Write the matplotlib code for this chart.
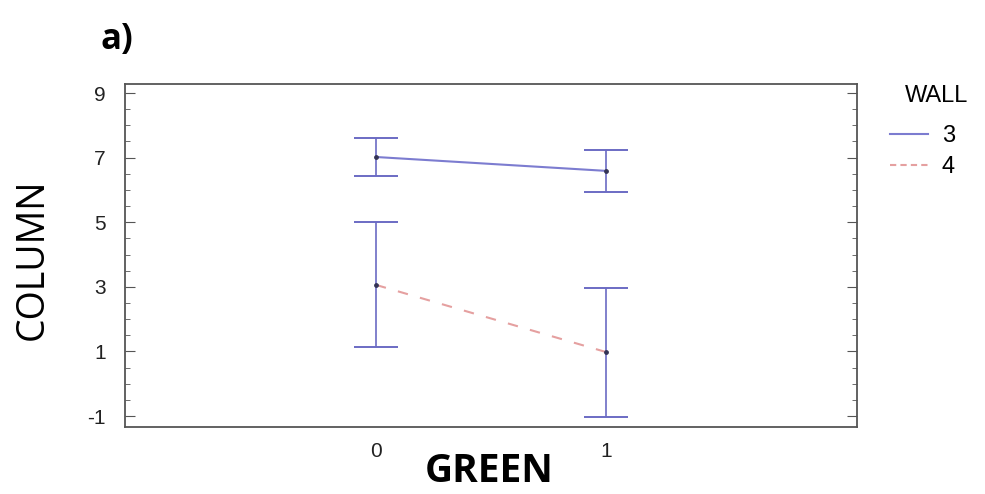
import matplotlib.pyplot as plt
from matplotlib.ticker import MultipleLocator
from matplotlib.lines import Line2D

GREEN = [0, 1]
WALL3_MEAN = [7.02, 6.59]
WALL3_LOW = [6.43, 5.94]
WALL3_HIGH = [7.60, 7.24]
WALL4_MEAN = [3.06, 0.98]
WALL4_LOW = [1.14, -1.03]
WALL4_HIGH = [5.00, 2.96]

BAR_COLOR = "#6b6bc4"
WALL3_COLOR = "#7c7cd0"
WALL4_COLOR = "#e5a0a0"

plt.rcParams["font.family"] = ["Liberation Sans", "DejaVu Sans"]
plt.rcParams["axes.unicode_minus"] = False

W, H = 985, 494
fig = plt.figure(figsize=(W / 100, H / 100), dpi=100)
ax = fig.add_axes([125 / W, 1 - 427 / H, (857 - 125) / W, (427 - 84) / H])

for mean, low, high in [(WALL3_MEAN, WALL3_LOW, WALL3_HIGH), (WALL4_MEAN, WALL4_LOW, WALL4_HIGH)]:
    err = [[m - lo for m, lo in zip(mean, low)], [hi - m for m, hi in zip(mean, high)]]
    ax.errorbar(GREEN, mean, yerr=err, fmt="none", ecolor=BAR_COLOR, elinewidth=1.2,
                capsize=16, capthick=1.4, zorder=2)

ax.plot(GREEN, WALL3_MEAN, color=WALL3_COLOR, linewidth=1.5, zorder=3)
ax.plot(GREEN, WALL4_MEAN, color=WALL4_COLOR, linewidth=1.5, linestyle=(0, (5, 6)), zorder=3)
ax.scatter(GREEN + GREEN, WALL3_MEAN + WALL4_MEAN, s=6, color="#333355", zorder=4)

ax.set_xlim(-1.09, 2.09)
ax.set_ylim(-1.34, 9.28)
ax.set_xticks(GREEN)
ax.set_xticklabels(["0", "1"])
ax.yaxis.set_major_locator(MultipleLocator(2, offset=1))
ax.yaxis.set_minor_locator(MultipleLocator(0.5))
ax.tick_params(axis="y", which="both", direction="in", right=True, labelsize=15, colors="#555555",
               labelcolor="#222222", pad=14)
ax.tick_params(axis="y", which="major", length=7)
ax.tick_params(axis="y", which="minor", length=3.5)
ax.tick_params(axis="x", length=0, labelsize=15, labelcolor="#222222", pad=11)
for spine in ax.spines.values():
    spine.set_color("#555555")
    spine.set_linewidth(1.3)

ax.set_ylabel("COLUMN", fontsize=27, family=["Open Sans", "DejaVu Sans"], va="center")
ax.yaxis.set_label_coords((33 - 125) / (857 - 125), (427 - 259) / (427 - 84))
ax.set_xlabel("GREEN", fontsize=28, fontweight="bold", family=["Open Sans", "DejaVu Sans"], va="center")
ax.xaxis.set_label_coords((489 - 125) / (857 - 125), -(471 - 427) / (427 - 84))
fig.text(100 / W, 1 - 40 / H, "a)", fontsize=25, fontweight="bold",
         family=["Open Sans", "DejaVu Sans"], va="center")

handles = [Line2D([], [], color=WALL3_COLOR, linewidth=1.5),
           Line2D([], [], color=WALL4_COLOR, linewidth=1.5, linestyle=(0, (3, 2)))]
fig.legend(handles, ["3", "4"], loc="upper left", bbox_to_anchor=(878 / W, 1 - 113 / H),
           frameon=False, fontsize=17, handlelength=1.6, handletextpad=0.6,
           labelspacing=0.4, borderpad=0)
fig.text(905 / W, 1 - 96 / H, "WALL", fontsize=17, va="center")

fig.savefig("out.png", dpi=100)
